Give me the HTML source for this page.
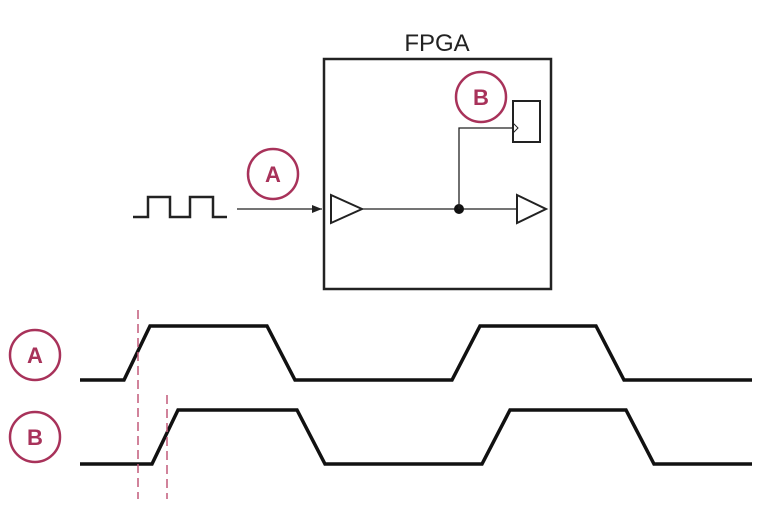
<!DOCTYPE html>
<html><head><style>body{margin:0;background:#fff}svg{display:block}</style></head><body>
<svg width="774" height="519" viewBox="0 0 774 519" xmlns="http://www.w3.org/2000/svg" font-family="Liberation Sans, sans-serif">
<defs><marker id="ar" markerWidth="10" markerHeight="8" refX="10" refY="4" orient="auto" markerUnits="userSpaceOnUse"><path d="M0,0 L10,4 L0,8 z" fill="#222"/></marker></defs>
<text x="437" y="51" font-size="24" text-anchor="middle" fill="#222">FPGA</text>
<rect x="324" y="59" width="227" height="230" fill="none" stroke="#222" stroke-width="2.5"/>
<polyline points="133,217 148,217 148,197 170,197 170,217 190,217 190,197 213,197 213,217 227,217" fill="none" stroke="#222" stroke-width="2.5"/>
<line x1="237" y1="209" x2="322" y2="209" stroke="#222" stroke-width="1.3" marker-end="url(#ar)"/>
<polygon points="331,195 362,209 331,223" fill="#fff" stroke="#222" stroke-width="2"/>
<line x1="362" y1="209" x2="517" y2="209" stroke="#222" stroke-width="1.3"/>
<circle cx="459" cy="209" r="5" fill="#111"/>
<polygon points="517,195 546,209 517,223" fill="#fff" stroke="#222" stroke-width="2"/>
<polyline points="459,209 459,128 513,128" fill="none" stroke="#222" stroke-width="1.3"/>
<rect x="513" y="101" width="27" height="41" fill="#fff" stroke="#222" stroke-width="2"/>
<polyline points="513,123 518,128 513,133" fill="none" stroke="#222" stroke-width="1"/>
<g stroke="#a8325a" stroke-width="2.5" fill="#fff">
<circle cx="273" cy="174" r="25"/><circle cx="481" cy="97" r="25"/>
<circle cx="35" cy="355" r="25"/><circle cx="35" cy="437" r="25"/>
</g>
<g fill="#a8325a" font-size="22" font-weight="bold" text-anchor="middle">
<text x="273" y="182">A</text><text x="481" y="105">B</text>
<text x="35" y="363">A</text><text x="35" y="445">B</text>
</g>
<polyline points="80,380 124,380 150,326 267,326 295,380 452,380 480,326 596,326 624,380 752,380" fill="none" stroke="#111" stroke-width="3.5"/>
<polyline points="80,464 152,464 178,410 297,410 325,464 482,464 510,410 626,410 654,464 752,464" fill="none" stroke="#111" stroke-width="3.5"/>
<g stroke="#c25a7a" stroke-width="1.5" stroke-dasharray="9,5">
<line x1="138" y1="310" x2="138" y2="499"/>
<line x1="167" y1="395" x2="167" y2="499"/>
</g>
</svg>
</body></html>
